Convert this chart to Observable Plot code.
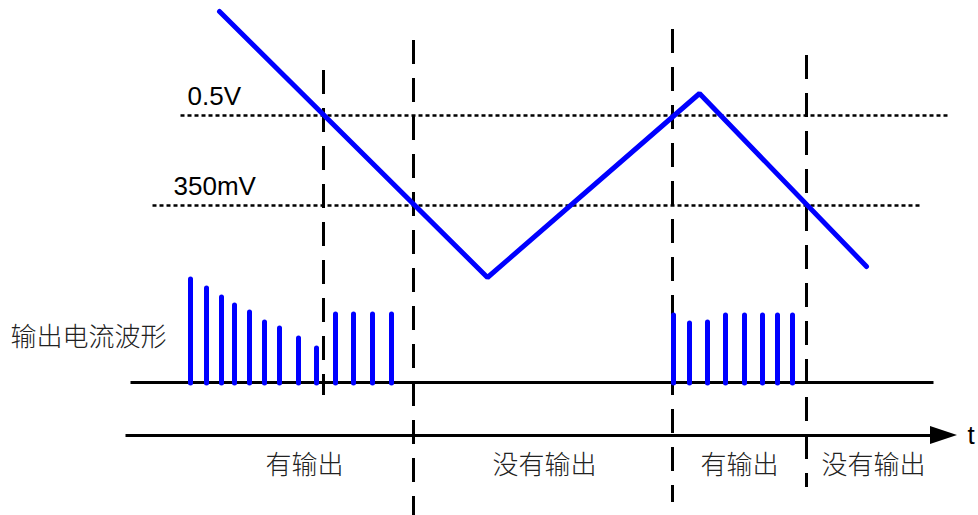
<!DOCTYPE html>
<html>
<head>
<meta charset="utf-8">
<script src="https://cdn.jsdelivr.net/npm/d3@7"></script>
<script src="https://cdn.jsdelivr.net/npm/@observablehq/plot@0.6"></script>
<style>
  html, body { margin: 0; padding: 0; background: #fff; }
  #chart svg { display: block; }
</style>
</head>
<body>
<div id="chart"></div>
<script>
// Triangle wave (time, level in picture units; level grows downward)
const waveT = [219, 487, 699, 866];
const waveV = [11, 277, 93, 266];

// Threshold lines
const thresholdLabels = ["0.5V", "350mV"];
const thresholdLevel = [115, 205];
const thresholdStart = [180, 152];
const thresholdEnd = [948, 922];
const thresholdLabelX = [187, 173];

// Output current pulses
const pulseLeftT = [190, 206, 221, 234, 249, 264, 279, 298, 316, 335, 353, 372, 391];
const pulseLeftTop = [279, 288, 297, 305, 312, 322, 328, 338, 348, 314, 314, 314, 314];
const pulseRightT = [673, 689, 707, 725, 744, 762, 777, 792];
const pulseRightTop = [315, 323, 322, 315, 315, 315, 315, 315];
const pulseBase = 383;

// Region boundaries
const boundaryT = [323, 413, 672, 806];
const boundaryTop = [70, 40, 29, 55];
const boundaryBottom = [395, 515, 502, 487];

// Region labels
const regionLabels = ["有输出", "没有输出", "有输出", "没有输出"];
const regionCenter = [304, 544, 739, 873];
const regionY = 465;

// Baselines
const currentBaseY = 382;
const currentBaseRange = [130, 933];
const timeAxisY = 435;
const timeAxisRange = [125, 935];
const arrowT = [930, 957];

const thresholds = thresholdLabels.map((l, i) => ({label: l, y: thresholdLevel[i], x1: thresholdStart[i], x2: thresholdEnd[i], lx: thresholdLabelX[i]}));
const pulses = pulseLeftT.map((t, i) => ({t, top: pulseLeftTop[i]}))
  .concat(pulseRightT.map((t, i) => ({t, top: pulseRightTop[i]})));
const boundaries = boundaryT.map((t, i) => ({t, y1: boundaryTop[i], y2: boundaryBottom[i]}));
const regions = regionLabels.map((l, i) => ({label: l, x: regionCenter[i]}));
const wave = waveT.map((t, i) => ({t, v: waveV[i]}));
const arrow = [{x: arrowT[0], y1: timeAxisY - 9, y2: timeAxisY + 9}, {x: arrowT[1], y1: timeAxisY, y2: timeAxisY}];

const cjk = "'Noto Sans CJK SC', sans-serif";
const latin = "'Liberation Sans', Arial, sans-serif";

const chart = Plot.plot({
  width: 978,
  height: 515,
  margin: 0,
  x: {domain: [0, 978], range: [0, 978], axis: null},
  y: {domain: [0, 515], range: [0, 515], axis: null},
  marks: [
    // threshold dotted lines
    Plot.link(thresholds, {x1: "x1", x2: "x2", y1: "y", y2: "y", stroke: "black", strokeWidth: 2.5, strokeDasharray: "4,3"}),
    // current baseline
    Plot.link([0], {x1: currentBaseRange[0], x2: currentBaseRange[1], y1: currentBaseY, y2: currentBaseY, stroke: "black", strokeWidth: 3}),
    // time axis
    Plot.link([0], {x1: timeAxisRange[0], x2: timeAxisRange[1], y1: timeAxisY, y2: timeAxisY, stroke: "black", strokeWidth: 3}),
    Plot.areaY(arrow, {x: "x", y1: "y1", y2: "y2", fill: "black"}),
    // boundaries
    Plot.ruleX(boundaries, {x: "t", y1: "y1", y2: "y2", stroke: "black", strokeWidth: 3, strokeDasharray: "24,14"}),
    // pulses
    Plot.ruleX(pulses, {x: "t", y1: "top", y2: pulseBase, stroke: "#0000ff", strokeWidth: 5, strokeLinecap: "round"}),
    // wave
    Plot.line(wave, {x: "t", y: "v", stroke: "#0000ff", strokeWidth: 5, strokeLinecap: "round", strokeLinejoin: "miter"}),
    // labels
    Plot.text(thresholds, {x: "lx", y: "y", dy: -19, text: "label", textAnchor: "start", fontSize: 26, fontFamily: latin, fill: "black"}),
    Plot.text(["输出电流波形"], {x: 10, y: 337, text: d => d, textAnchor: "start", fontSize: 26, fontFamily: cjk, fontWeight: 300, fill: "#222"}),
    Plot.text(regions, {x: "x", y: regionY, text: "label", fontSize: 26, fontFamily: cjk, fontWeight: 300, fill: "#222"}),
    Plot.text(["t"], {x: 967, y: timeAxisY, text: d => d, textAnchor: "start", fontSize: 26, fontFamily: latin, fill: "black"})
  ]
});
document.getElementById("chart").appendChild(chart);
</script>
</body>
</html>
